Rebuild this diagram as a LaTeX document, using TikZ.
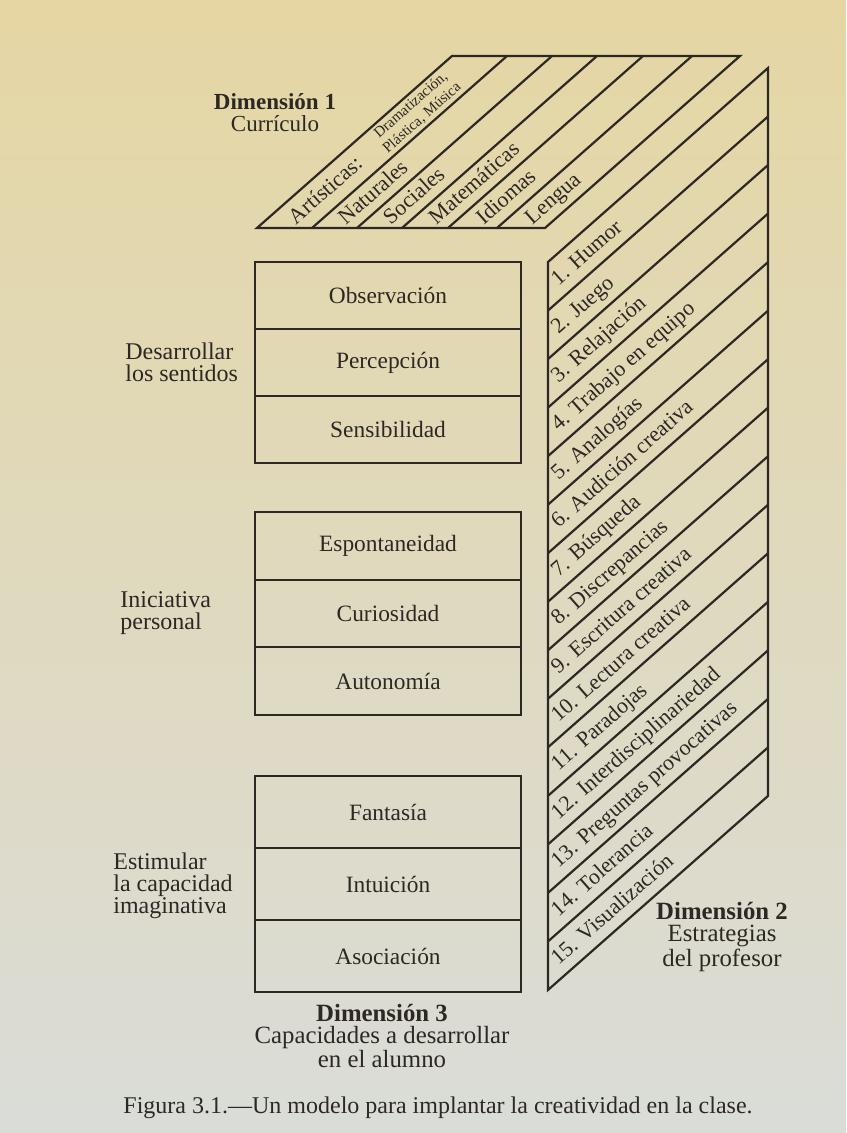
\documentclass[tikz,border=0pt]{standalone}
\usepackage{fontspec}
\setmainfont{Liberation Serif}
\usetikzlibrary{calc}

\definecolor{ink}{RGB}{45,40,36}
\definecolor{pagetop}{RGB}{229,214,163}
\definecolor{pagemid}{RGB}{229,227,216}
\definecolor{pagebot}{RGB}{218,220,216}

\tikzset{
  frame/.style={draw=ink, line width=1.1pt, line join=miter},
  cell/.style={draw=ink, line width=1.1pt, minimum width=133pt, minimum height=#1,
    inner sep=0pt, outer sep=0pt, text=ink, font=\fontsize{11.7}{13}\selectfont},
  slab/.style={rotate=41.41, anchor=west, text=ink, font=\fontsize{11}{13}\selectfont,
    text height=7.5pt, text depth=2pt, inner sep=0pt},
  sidelabel/.style={anchor=west, align=left, text=ink, inner sep=0pt,
    font=\fontsize{12}{11}\selectfont},
  dimlabel/.style={align=center, text=ink, inner sep=0pt,
    font=\fontsize{12.4}{11}\selectfont},
}

\begin{document}
\begin{tikzpicture}[x=0.5pt,y=-0.5pt]
\useasboundingbox (0,0) rectangle (846,1133);
\shade[top color=pagetop, middle color=pagemid, bottom color=pagebot]
  (0,0) rectangle (846,1133);

% Dimension 1: curriculum areas (top face)
\draw[frame] (257,228) -- (545,228) -- (740,56) -- (452,56) -- cycle;
\foreach \b in {312,357,402,448,497}
  \draw[frame] (\b,228) -- ++(195,-172);

\foreach \m/\t/\n in {284.5/{Artísticas:}/1, 334.5/Naturales/2, 379.5/Sociales/3,
                       425/Matemáticas/4, 472.5/Idiomas/5, 521/Lengua/6}
  \node[slab] (c\n) at ({\m+10*0.75},{228-10*0.6614}) {\t};
\node[rotate=41.41, align=center, text=ink, inner sep=0pt,
      font=\fontsize{7.5}{8.5}\selectfont]
  (c1b) at ({284.5+176*0.75},{228-176*0.6614}) {Dramatización,\\Plástica, Música};

\node[dimlabel, font=\fontsize{11.5}{11}\selectfont] (d1) at (275,113)
  {\textbf{Dimensión 1}\\Currículo};

% Dimension 2: teaching strategies (side face)
\draw[frame] (548,262) -- (768,68) -- (768,795.95) -- (548,989.95) -- cycle;
\foreach \k in {1,...,14}
  \draw[frame] (548,{262+48.53*\k}) -- ++(220,-194);

\foreach \k/\t in {1/{1. Humor}, 2/{2. Juego}, 3/{3. Relajación},
    4/{4. Trabajo en equipo}, 5/{5. Analogías}, 6/{6. Audición creativa},
    7/{7. Búsqueda}, 8/{8. Discrepancias}, 9/{9. Escritura creativa},
    10/{10. Lectura creativa}, 11/{11. Paradojas}, 12/{12. Interdisciplinariedad},
    13/{13. Preguntas provocativas}, 14/{14. Tolerancia}, 15/{15. Visualización}}
  \node[slab] (e\k) at ({548+9*0.75},{262+48.53*(\k-0.5)+2-9*0.6614}) {\t};

\node[dimlabel] (d2) at (722,937) {\textbf{Dimensión 2}\\Estrategias\\del profesor};

% Dimension 3: pupil capacities (front face)
\node[cell=33.5pt] (obs) at (388,295.5) {Observación};
\node[cell=33.5pt] (per) at (388,362.5) {Percepción};
\node[cell=33.5pt] (sen) at (388,429.5) {Sensibilidad};

\node[cell=34pt]   (esp) at (388,546) {Espontaneidad};
\node[cell=33.5pt] (cur) at (388,613.5) {Curiosidad};
\node[cell=34pt]   (aut) at (388,681) {Autonomía};

\node[cell=36pt] (fan) at (388,812) {Fantasía};
\node[cell=36pt] (int) at (388,884) {Intuición};
\node[cell=36pt] (aso) at (388,956) {Asociación};

\node[sidelabel] (g1) at (125,362) {Desarrollar\\los sentidos};
\node[sidelabel] (g2) at (120,613) {Iniciativa\\personal};
\node[sidelabel] (g3) at (113,886) {Estimular\\la capacidad\\imaginativa};

\node[dimlabel] (d3) at (382,1036)
  {\textbf{Dimensión 3}\\Capacidades a desarrollar\\en el alumno};

\node[anchor=base, text=ink, inner sep=0pt, font=\fontsize{12}{13}\selectfont]
  (cap) at (438,1113)
  {Figura 3.1.---Un modelo para implantar la creatividad en la clase.};
\end{tikzpicture}
\end{document}
